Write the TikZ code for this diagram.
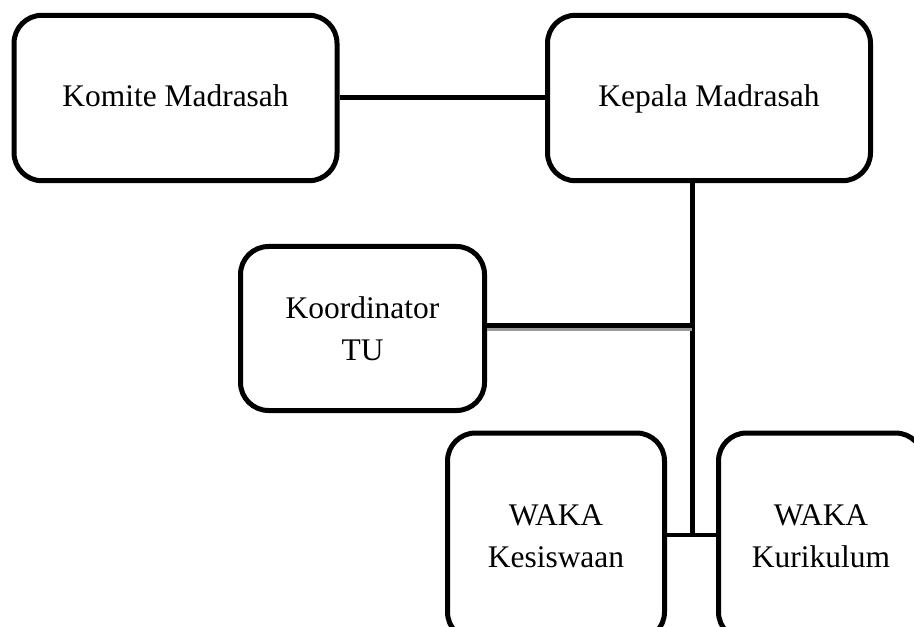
\documentclass[tikz,border=0pt]{standalone}
\usepackage{fontspec}
\setmainfont{Liberation Serif}
\usetikzlibrary{positioning}
\begin{document}
\begin{tikzpicture}
% Struktur organisasi madrasah, coordinates in pixels
\def\pxsz{0.75pt}
\providecommand{\orgLineWidth}{3.75pt}
\providecommand{\orgThinWidth}{3pt}
\providecommand{\orgCornerRadius}{21pt}
\providecommand{\orgShadowColor}{black!40}
\begin{scope}[x=\pxsz, y=-\pxsz, line cap=butt, line join=round,
  orgframe/.style={draw=black, line width=\orgLineWidth, rounded corners=\orgCornerRadius,
    fill=white, inner sep=0pt, font=\fontsize{23.6}{31.5}\selectfont},
  orgbox/.style={orgframe, align=center},
  onelinebox/.style={orgframe, text height=18.4pt, text depth=4.9pt},
  orgline/.style={draw=black, line width=\orgLineWidth}]
  % Page frame
  \clip (0,0) rectangle (914,627);
  \fill[white] (0,0) rectangle (914,627);
  % Boxes
  \node[onelinebox, minimum width=242.25pt, minimum height=124.1pt] (komite) at (175.5,98) {Komite Madrasah};
  \node[onelinebox, minimum width=242.25pt, minimum height=124.1pt] (kepala) at (709,98) {Kepala Madrasah};
  \node[orgbox, minimum width=183pt, minimum height=123pt] (koord) at (362.5,328.5) {Koordinator\\TU};
  \node[orgbox, minimum width=162.75pt, minimum height=155.25pt] (kesiswaan) at (556,536.5) {WAKA\\Kesiswaan};
  \node[orgbox, minimum width=153.75pt, minimum height=155.25pt] (kurikulum) at (821,536.5) {WAKA\\Kurikulum};
  % Junction points on the trunk
  \coordinate (tujoin) at (692,325.5);
  \coordinate (wakajoin) at (692,535);
  % Connectors
  \draw[orgline] (komite.east) -- (kepala.west);
  \draw[orgline] (kepala.south -| tujoin) -- ([yshift=-1.5pt]wakajoin);
  \draw[draw=\orgShadowColor, line width=\orgLineWidth] ([yshift=-2.6pt]koord.east |- tujoin) -- ([yshift=-2.6pt]tujoin);
  \draw[orgline] (koord.east |- tujoin) -- (tujoin);
  \draw[orgline, line width=\orgThinWidth] (kesiswaan.east |- wakajoin) -- (kurikulum.west |- wakajoin);
\end{scope}
\end{tikzpicture}
\end{document}
